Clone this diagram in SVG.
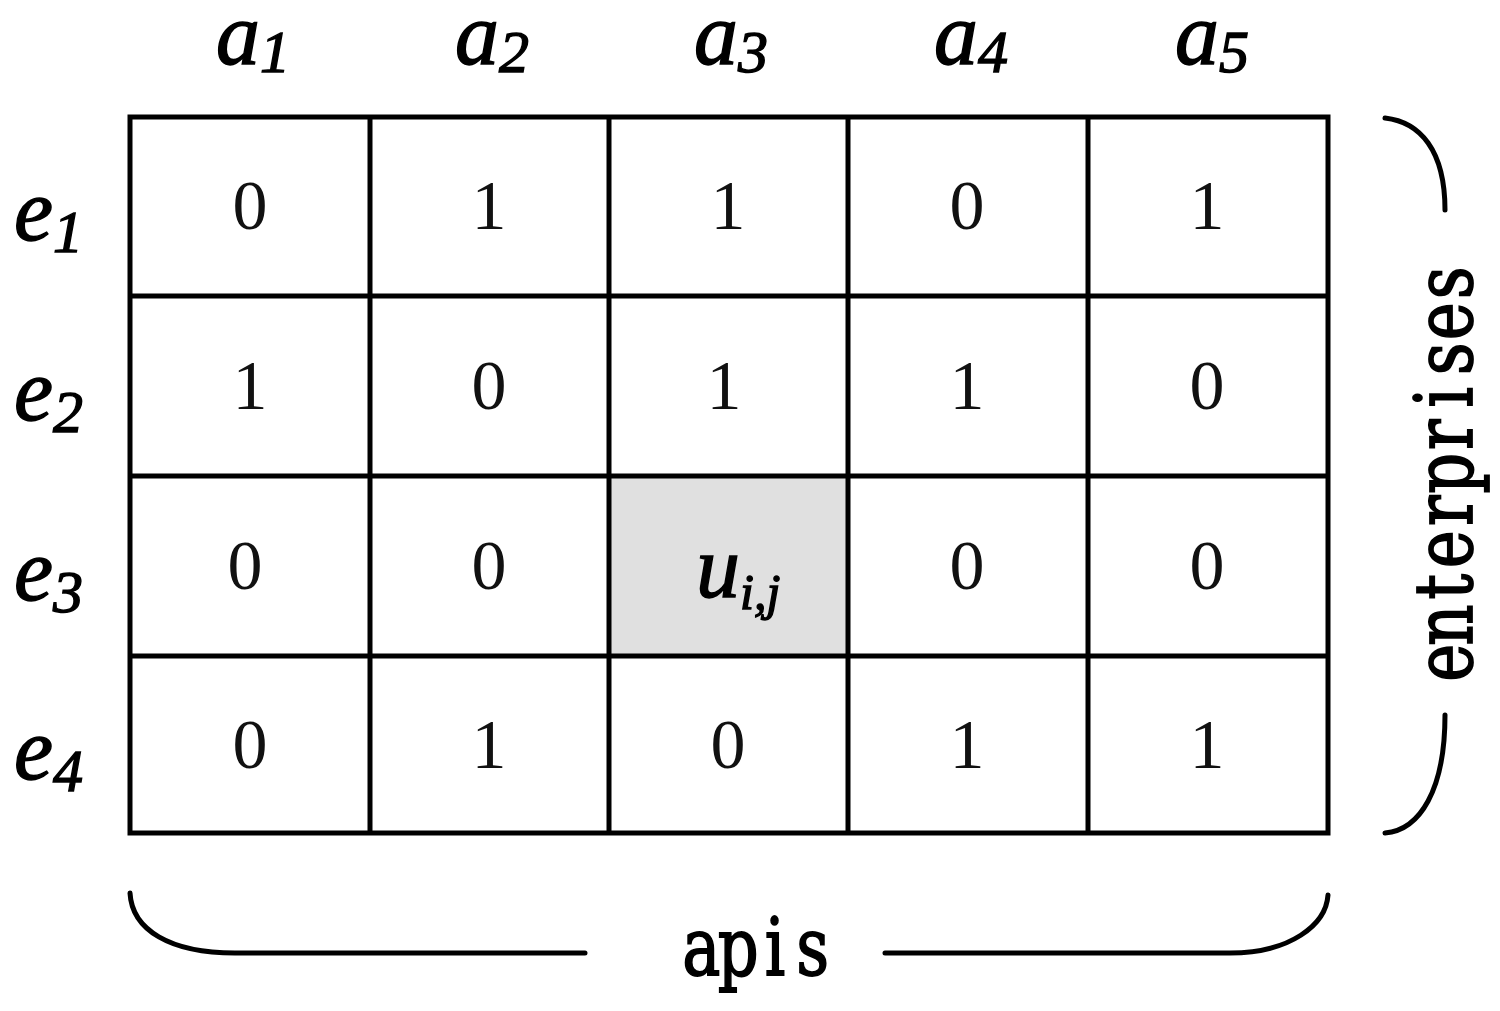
<svg xmlns="http://www.w3.org/2000/svg" width="1500" height="1011" viewBox="0 0 1500 1011">
<style>
.grid{fill:none;stroke:#000;stroke-width:5}
.br{fill:none;stroke:#000;stroke-width:5;stroke-linecap:round}
.num{font-family:"Liberation Serif",serif;font-size:70px;text-anchor:middle;fill:#111}
.lab{font-family:"Liberation Serif",serif;font-style:italic;font-size:88px;fill:#000;stroke:#000;stroke-width:1.4}
.sub{font-size:60px}
.mono{font-family:"DejaVu Serif",serif;font-size:80px;fill:#000;stroke:#000;stroke-width:1.8;text-anchor:middle}
</style>
<rect width="1500" height="1011" fill="#fff"/>
<g id="highlight">
<rect x="609" y="476" width="239" height="180" fill="#e0e0e0"/>
</g>
<g id="grid">
<rect class="grid" x="130" y="117" width="1198" height="716" stroke-width="6"/>
<path class="grid" d="M370,117V833M609,117V833M848,117V833M1088,117V833M130,296H1328M130,476H1328M130,656H1328"/>
</g>
<g id="headers">
<text class="lab" x="253" y="64" text-anchor="middle">a<tspan class="sub" dy="8">1</tspan></text>
<text class="lab" x="492" y="64" text-anchor="middle">a<tspan class="sub" dy="8">2</tspan></text>
<text class="lab" x="731" y="64" text-anchor="middle">a<tspan class="sub" dy="8">3</tspan></text>
<text class="lab" x="971" y="64" text-anchor="middle">a<tspan class="sub" dy="8">4</tspan></text>
<text class="lab" x="1212" y="64" text-anchor="middle">a<tspan class="sub" dy="8">5</tspan></text>
</g>
<g id="rows">
<text class="lab" x="14" y="240">e<tspan class="sub" dy="12">1</tspan></text>
<text class="lab" x="14" y="420">e<tspan class="sub" dy="12">2</tspan></text>
<text class="lab" x="14" y="600">e<tspan class="sub" dy="12">3</tspan></text>
<text class="lab" x="14" y="779">e<tspan class="sub" dy="12">4</tspan></text>
</g>
<g id="cells">
<text class="num" x="250" y="229">0</text>
<text class="num" x="489" y="229">1</text>
<text class="num" x="728" y="229">1</text>
<text class="num" x="967" y="229">0</text>
<text class="num" x="1207" y="229">1</text>
<text class="num" x="250" y="409">1</text>
<text class="num" x="489" y="409">0</text>
<text class="num" x="724" y="409">1</text>
<text class="num" x="967" y="409">1</text>
<text class="num" x="1207" y="409">0</text>
<text class="num" x="245" y="589">0</text>
<text class="num" x="489" y="589">0</text>
<text class="num" x="967" y="589">0</text>
<text class="num" x="1207" y="589">0</text>
<text class="num" x="250" y="768">0</text>
<text class="num" x="489" y="768">1</text>
<text class="num" x="728" y="768">0</text>
<text class="num" x="967" y="768">1</text>
<text class="num" x="1207" y="768">1</text>
<text class="lab" x="696" y="597" font-size="88">u<tspan font-size="50" dy="12">i,j</tspan></text>
</g>
<g id="braces">
<path class="br" d="M1385,118C1420,122 1445,150 1445,210"/>
<path class="br" d="M1445,715C1445,790 1420,830 1385,833"/>
<path class="br" d="M130,893C132,930 170,953 235,953L585,953"/>
<path class="br" d="M885,953L1230,953C1290,953 1326,925 1328,895"/>
</g>
<g id="labels">
<text class="mono" transform="translate(683,975) scale(0.8,1)" x="23 69 115 162" y="0">apis</text>
<text class="mono" transform="translate(1472,682) rotate(-90) scale(0.8,1)" x="24 71 119 166 214 261 309 356 404 451 499" y="0">enterprises</text>
</g>
</svg>
